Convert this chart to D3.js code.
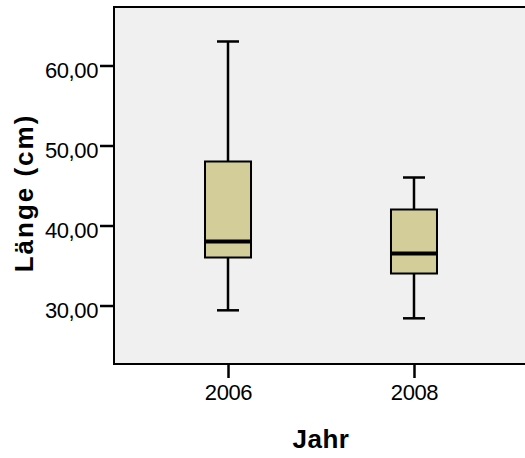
<!DOCTYPE html>
<html>
<head>
<meta charset="utf-8">
<script src="https://cdn.jsdelivr.net/npm/d3@7"></script>
<style>
  html, body { margin: 0; padding: 0; background: #ffffff; }
  svg { display: block; font-family: "Liberation Sans", Arial, sans-serif; }
</style>
</head>
<body>
<svg id="chart" width="525" height="458"></svg>
<script>
// Box plot summary per year: whisker ends, quartiles and median
const years = ["2006", "2008"];
const whiskerLow = [29.4, 28.4];
const q1 = [36, 34];
const median = [38, 36.5];
const q3 = [48, 42];
const whiskerHigh = [63, 46];
const yTicks = [30, 40, 50, 60];

const svg = d3.select("#chart");
const plot = { left: 114, right: 528, top: 7, bottom: 364 };

const x = d3.scalePoint().domain(years).range([plot.left, plot.right]).padding(0.613);
const y = d3.scaleLinear().domain([22.69, 67.31]).range([plot.bottom, plot.top]);

const fmt = v => d3.format(".2f")(v).replace(".", ",");

// plot background
svg.append("rect")
  .attr("x", plot.left).attr("y", plot.top)
  .attr("width", plot.right - plot.left).attr("height", plot.bottom - plot.top)
  .attr("fill", "#f0f0f0");

// y axis
const yAxis = svg.append("g")
  .attr("transform", `translate(${plot.left},0)`)
  .call(d3.axisLeft(y).tickValues(yTicks).tickFormat(fmt).tickSize(14).tickPadding(2));
yAxis.select(".domain").remove();
yAxis.selectAll(".tick line").attr("stroke", "#000").attr("stroke-width", 2.5);
yAxis.selectAll(".tick text")
  .attr("fill", "#000").attr("font-size", 22).attr("dy", "0.53em")
  .style("letter-spacing", "-0.4px");

// x axis
const xAxis = svg.append("g")
  .attr("transform", `translate(0,${plot.bottom})`)
  .call(d3.axisBottom(x).tickSize(14).tickPadding(6));
xAxis.select(".domain").remove();
xAxis.selectAll(".tick line").attr("stroke", "#000").attr("stroke-width", 2.5);
xAxis.selectAll(".tick text")
  .attr("fill", "#000").attr("font-size", 22)
  .style("letter-spacing", "-0.4px");

// frame: top, left and bottom edges
svg.append("path")
  .attr("d", `M${plot.right},${plot.top}H${plot.left}V${plot.bottom}H${plot.right}`)
  .attr("fill", "none").attr("stroke", "#000").attr("stroke-width", 2);

const boxW = 46, capW = 22;
const boxes = svg.append("g").selectAll("g").data(years).join("g");

boxes.append("line")
  .attr("x1", d => x(d)).attr("x2", d => x(d))
  .attr("y1", (d, i) => y(whiskerHigh[i])).attr("y2", (d, i) => y(q3[i]))
  .attr("stroke", "#000").attr("stroke-width", 2.5);
boxes.append("line")
  .attr("x1", d => x(d)).attr("x2", d => x(d))
  .attr("y1", (d, i) => y(q1[i])).attr("y2", (d, i) => y(whiskerLow[i]))
  .attr("stroke", "#000").attr("stroke-width", 2.5);
boxes.append("line")
  .attr("x1", d => x(d) - capW / 2).attr("x2", d => x(d) + capW / 2)
  .attr("y1", (d, i) => y(whiskerHigh[i])).attr("y2", (d, i) => y(whiskerHigh[i]))
  .attr("stroke", "#000").attr("stroke-width", 2.5);
boxes.append("line")
  .attr("x1", d => x(d) - capW / 2).attr("x2", d => x(d) + capW / 2)
  .attr("y1", (d, i) => y(whiskerLow[i])).attr("y2", (d, i) => y(whiskerLow[i]))
  .attr("stroke", "#000").attr("stroke-width", 2.5);
boxes.append("rect")
  .attr("x", d => x(d) - boxW / 2).attr("width", boxW)
  .attr("y", (d, i) => y(q3[i])).attr("height", (d, i) => y(q1[i]) - y(q3[i]))
  .attr("fill", "#d3ce99").attr("stroke", "#000").attr("stroke-width", 2);
boxes.append("line")
  .attr("x1", d => x(d) - boxW / 2).attr("x2", d => x(d) + boxW / 2)
  .attr("y1", (d, i) => y(median[i])).attr("y2", (d, i) => y(median[i]))
  .attr("stroke", "#000").attr("stroke-width", 4);

// axis titles
svg.append("text")
  .attr("x", 321).attr("y", 448)
  .attr("text-anchor", "middle")
  .attr("font-size", 26).attr("font-weight", "bold")
  .style("letter-spacing", "0.5px")
  .text("Jahr");
svg.append("text")
  .attr("transform", "translate(33,193) rotate(-90)")
  .attr("text-anchor", "middle")
  .attr("font-size", 26).attr("font-weight", "bold")
  .style("letter-spacing", "2px")
  .text("Länge (cm)");
</script>
</body>
</html>
